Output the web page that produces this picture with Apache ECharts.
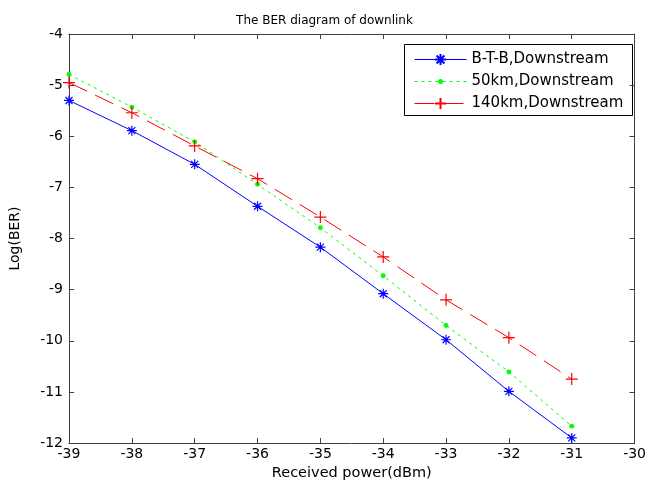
<!DOCTYPE html>
<html>
<head>
<meta charset="utf-8">
<script src="https://cdn.jsdelivr.net/npm/echarts@6/dist/echarts.min.js"></script>
<style>
  html, body { margin: 0; padding: 0; background: #fff; }
  #chart { width: 649px; height: 486px; }
</style>
</head>
<body>
<div id="chart"></div>
<script>
// received power (dBm)
const power = [-39, -38, -37, -36, -35, -34, -33, -32, -31]
// log10(BER)
const btb = [-5.30, -5.89, -6.55, -7.37, -8.17, -9.08, -9.98, -10.99, -11.90]
const km50 = [-4.79, -5.43, -6.11, -6.94, -7.79, -8.73, -9.70, -10.61, -11.67]
const km140 = [-4.95, -5.54, -6.19, -6.83, -7.58, -8.36, -9.20, -9.94, -10.75]
const seriesNames = ['B-T-B,Downstream', '50km,Downstream', '140km,Downstream']
const colors = ['#0000ff', '#00ff00', '#ff0000']

const font = 'DejaVu Sans, Arial, sans-serif'
const axisColor = '#404040'

function pairs(ys) {
  return power.map((x, i) => [x, ys[i]])
}

const starPath = 'path://M0,-10L0,10M-10,0L10,0M-7,-7L7,7M-7,7L7,-7'
const plusPath = 'path://M0,-10L0,10M-10,0L10,0'
// small dot inside a bigger (empty) box so the legend copy stays small
const dotPath = 'path://M-10,-10M10,10M-4.5,0A4.5,4.5,0,1,1,4.5,0A4.5,4.5,0,1,1,-4.5,0Z'
const dashTypes = [null, [3, 4], [20, 9]]

const chart = echarts.init(document.getElementById('chart'))

const baseX = {
  type: 'value', min: -39, max: -30, interval: 1,
  axisLine: { onZero: false, lineStyle: { color: axisColor, width: 1 } },
  axisTick: { inside: true, length: 5, lineStyle: { color: axisColor } },
  splitLine: { show: false }
}
const baseY = {
  type: 'value', min: -12, max: -4, interval: 1,
  axisLine: { onZero: false, lineStyle: { color: axisColor, width: 1 } },
  axisTick: { inside: true, length: 5, lineStyle: { color: axisColor } },
  splitLine: { show: false }
}

function lineStyleOf(i) {
  const s = { color: colors[i], width: 1 }
  if (dashTypes[i]) s.type = dashTypes[i]
  return s
}

chart.setOption({
  animation: false,
  title: {
    text: 'The BER diagram of downlink',
    left: 'center', top: 10,
    textStyle: { fontFamily: font, fontSize: 12, fontWeight: 'normal', color: '#000' }
  },
  grid: { left: 68, right: 7, top: 34, bottom: 42 },
  // legend frame
  graphic: [{
    type: 'rect', z: 0,
    shape: { x: 404.5, y: 44.5, width: 228, height: 71 },
    style: { fill: '#fff', stroke: '#000', lineWidth: 1 }
  }],
  legend: {
    orient: 'vertical',
    left: 404, top: 44,
    padding: [7, 10, 5, 10],
    itemGap: 5,
    itemWidth: 52, itemHeight: 14,
    formatter: '{t|{name}}',
    textStyle: {
      fontFamily: font, fontSize: 15, lineHeight: 17,
      rich: { t: { fontFamily: font, fontSize: 15, lineHeight: 17, color: '#000' } }
    },
    data: seriesNames.map((n, i) => ({ name: n, lineStyle: lineStyleOf(i) }))
  },
  xAxis: [
    Object.assign({}, baseX, {
      position: 'bottom',
      name: 'Received power(dBm)', nameLocation: 'middle', nameGap: 23,
      nameTextStyle: { fontFamily: font, fontSize: 14.5, color: '#000' },
      axisLabel: { fontFamily: font, fontSize: 14, color: '#000', margin: 4 }
    }),
    Object.assign({}, baseX, { position: 'top', axisLabel: { show: false } })
  ],
  yAxis: [
    Object.assign({}, baseY, {
      position: 'left',
      name: 'Log(BER)', nameLocation: 'middle', nameGap: 47,
      nameTextStyle: { fontFamily: font, fontSize: 14, color: '#000' },
      axisLabel: { fontFamily: font, fontSize: 14, color: '#000', margin: 6 }
    }),
    Object.assign({}, baseY, { position: 'right', axisLabel: { show: false } })
  ],
  series: [
    {
      name: seriesNames[0], type: 'line', data: pairs(btb),
      symbol: starPath, symbolSize: 10,
      itemStyle: { color: colors[0], borderColor: colors[0], borderWidth: 1.2 },
      lineStyle: lineStyleOf(0)
    },
    {
      name: seriesNames[1], type: 'line', data: pairs(km50),
      symbol: dotPath, symbolSize: 11,
      itemStyle: { color: colors[1], borderColor: colors[1], borderWidth: 0 },
      lineStyle: lineStyleOf(1)
    },
    {
      name: seriesNames[2], type: 'line', data: pairs(km140),
      symbol: plusPath, symbolSize: 12,
      itemStyle: { color: colors[2], borderColor: colors[2], borderWidth: 1.2 },
      lineStyle: lineStyleOf(2)
    }
  ]
})
</script>
</body>
</html>
